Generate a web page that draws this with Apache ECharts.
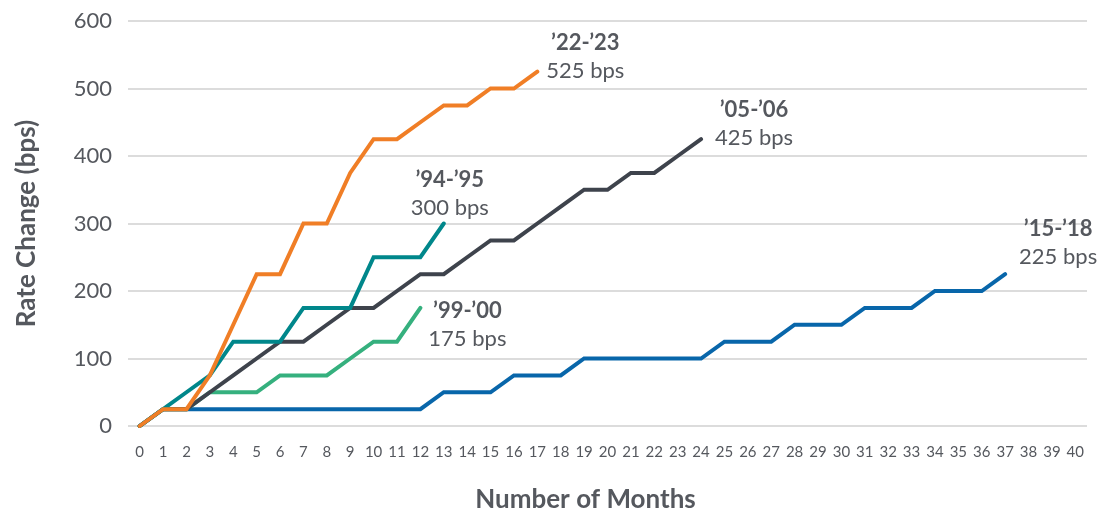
<!DOCTYPE html>
<html>
<head>
<meta charset="utf-8">
<script src="https://cdn.jsdelivr.net/npm/echarts@6/dist/echarts.min.js"></script>
<style>
  html, body { margin: 0; padding: 0; background: #fff; }
  #chart { width: 1101px; height: 514px; }
</style>
</head>
<body>
<div id="chart"></div>
<script>
// Months since the first hike of each tightening cycle
const months = Array.from({ length: 41 }, (_, i) => String(i));

// Cumulative fed funds increases, in basis points, by month of cycle
const cycle2223 = [0, 25, 25, 75, 150, 225, 225, 300, 300, 375, 425, 425, 450, 475, 475, 500, 500, 525];
const cycle0506 = [0, 25, 25, 50, 75, 100, 125, 125, 150, 175, 175, 200, 225, 225, 250, 275, 275, 300, 325, 350, 350, 375, 375, 400, 425];
const cycle9495 = [0, 25, 50, 75, 125, 125, 125, 175, 175, 175, 250, 250, 250, 300];
const cycle9900 = [0, 25, 25, 50, 50, 50, 75, 75, 75, 100, 125, 125, 175];
const cycle1518 = [0, 25, 25, 25, 25, 25, 25, 25, 25, 25, 25, 25, 25, 50, 50, 50, 75, 75, 75, 100, 100, 100, 100, 100, 100, 125, 125, 125, 150, 150, 150, 175, 175, 175, 200, 200, 200, 225];

const cycleNames = ['\u201915-\u201918', '\u201999-\u201900', '\u201905-\u201906', '\u201994-\u201995', '\u201922-\u201923'];

const FONT = 'Lato, "Open Sans", sans-serif';
const TEXT = '#55585e';

function cycleSeries(name, data, color, labelOffset) {
  return {
    name: name,
    type: 'line',
    data: data,
    symbol: 'none',
    lineStyle: { color: color, width: 4, cap: 'round', join: 'miter' },
    emphasis: { disabled: true },
    z: 3,
    endLabel: {
      show: true,
      distance: 0,
      align: 'center',
      verticalAlign: 'middle',
      offset: labelOffset,
      formatter: p => '{a|' + name + '}\n{b|' + p.value + ' bps}',
      rich: {
        a: { fontFamily: FONT, fontWeight: 'bold', fontSize: 22, color: TEXT, lineHeight: 28, align: 'center' },
        b: { fontFamily: FONT, fontSize: 22, color: TEXT, lineHeight: 28, align: 'center' }
      }
    }
  };
}

const chart = echarts.init(document.getElementById('chart'), null, { renderer: 'canvas' });

chart.setOption({
  animation: false,
  backgroundColor: '#ffffff',
  grid: { left: 128, right: 14, top: 21, bottom: 88, containLabel: false, outerBoundsMode: 'none' },
  xAxis: {
    type: 'category',
    data: months,
    boundaryGap: true,
    name: 'Number of Months',
    nameLocation: 'middle',
    nameGap: 61,
    nameTextStyle: { fontFamily: FONT, fontWeight: 'bold', fontSize: 26, color: TEXT, padding: [0, 44, 0, 0] },
    axisLine: { show: false },
    axisTick: { show: false },
    axisLabel: { interval: 0, fontFamily: FONT, fontSize: 15, color: TEXT, margin: 19 }
  },
  yAxis: {
    type: 'value',
    min: 0,
    max: 600,
    interval: 100,
    name: 'Rate Change (bps)',
    nameLocation: 'middle',
    nameGap: 88,
    nameTextStyle: { fontFamily: FONT, fontWeight: 'bold', fontSize: 26, color: TEXT },
    axisLine: { show: false },
    axisTick: { show: false },
    axisLabel: { fontFamily: FONT, fontSize: 22, color: TEXT, margin: 16 },
    splitLine: { lineStyle: { color: '#dcdcdc', width: 2 } }
  },
  series: [
    cycleSeries(cycleNames[0], cycle1518, '#0866aa', [53, -31]),
    cycleSeries(cycleNames[1], cycle9900, '#35b07e', [47, 17]),
    cycleSeries(cycleNames[2], cycle0506, '#3e434c', [53, -15]),
    cycleSeries(cycleNames[3], cycle9495, '#00878b', [6, -30]),
    cycleSeries(cycleNames[4], cycle2223, '#f07e26', [48, -15])
  ]
});
</script>
</body>
</html>
